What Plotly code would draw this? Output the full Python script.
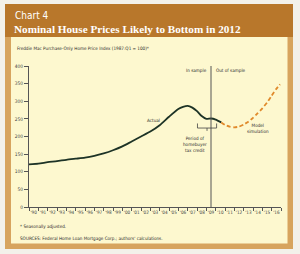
import plotly.graph_objects as go

# ---- data ----
actual_years = [1990.0, 1991.0, 1992.0, 1993.0, 1994.0, 1995.0, 1996.0, 1997.0, 1998.0,
                1999.0, 2000.0, 2001.0, 2002.0, 2003.0, 2004.0, 2005.0, 2006.0, 2006.5,
                2007.0, 2007.5, 2008.0, 2008.5, 2009.0, 2009.5, 2010.0, 2010.6]
actual_values = [121, 123, 127, 130, 134, 137, 140, 145, 152,
                 161, 172, 186, 200, 214, 232, 256, 278, 284,
                 287, 282, 272, 258, 250, 251, 248, 240]
sim_years = [2010.6, 2011.0, 2011.5, 2012.0, 2012.5, 2013.0, 2013.5, 2014.0, 2014.5,
             2015.0, 2015.5, 2016.0, 2016.5, 2016.9]
sim_values = [240, 233, 228, 226, 228, 234, 242, 253, 266,
              280, 296, 316, 335, 348]
tick_years = list(range(1990, 2017))
tick_labels = ["'" + str(y)[2:] for y in tick_years]
y_ticks = [0, 50, 100, 150, 200, 250, 300, 350, 400]
sample_split = 2009.5
credit_start, credit_end = 2008.05, 2010.1

# ---- layout geometry ----
W, H = 300, 254
L, R, T, B = 29, 19, 66, 47
PW, PH = W - L - R, H - T - B


def fx(px):
    return (px - L) / PW


def fy(py):
    return (H - B - py) / PH


FONT = "Liberation Sans Narrow, DejaVu Sans Condensed, Arial Narrow, sans-serif"
TXT = "#2a2a2a"
SM = 4.6

fig = go.Figure()
fig.add_trace(go.Scatter(x=actual_years, y=actual_values, mode="lines",
                         line=dict(color="#1d3326", width=1.8, shape="spline", smoothing=0.6),
                         hoverinfo="skip", showlegend=False))
fig.add_trace(go.Scatter(x=sim_years, y=sim_values, mode="lines",
                         line=dict(color="#e08a2c", width=1.8, dash="4px,2.5px", shape="spline",
                                   smoothing=0.6),
                         hoverinfo="skip", showlegend=False))

shapes = [
    # frame
    dict(type="rect", xref="paper", yref="paper", x0=fx(5), x1=fx(293), y0=fy(249), y1=fy(4),
         fillcolor="#d7a45e", line=dict(width=0), layer="below"),
    dict(type="rect", xref="paper", yref="paper", x0=fx(5), x1=fx(293), y0=fy(37), y1=fy(4),
         fillcolor="#b8772b", line=dict(width=0), layer="below"),
    dict(type="rect", xref="paper", yref="paper", x0=fx(11), x1=fx(287.5), y0=fy(243.5), y1=fy(37),
         fillcolor="#fdf8cf", line=dict(width=0), layer="below"),
    # sample split line
    dict(type="line", xref="x", yref="y", x0=sample_split, x1=sample_split, y0=0, y1=400,
         line=dict(color="#555555", width=1)),
    # tax credit bracket
    dict(type="path", xref="x", yref="y",
         path=f"M {credit_start},237 L {credit_start},224 L {credit_end},224 L {credit_end},237",
         line=dict(color="#444444", width=0.8)),
    dict(type="line", xref="x", yref="y", x0=(credit_start + credit_end) / 2,
         x1=(credit_start + credit_end) / 2, y0=224, y1=216,
         line=dict(color="#444444", width=0.8)),
]

ann = []


def text(s, x, y, size=SM, color=TXT, xanchor="left", family=FONT, align="left"):
    ann.append(dict(text=s, xref="paper", yref="paper", x=fx(x), y=fy(y), xanchor=xanchor,
                    yanchor="middle", showarrow=False, align=align,
                    font=dict(size=size, color=color, family=family)))


text("Chart 4", 12.5, 16, size=10, color="white")
text("<b>Nominal House Prices Likely to Bottom in 2012</b>", 12, 29.5, size=11.2, color="white",
     family="Liberation Serif, Times New Roman, serif")
text("Freddie Mac Purchase-Only Home Price Index (1987:Q1 = 100)*", 15, 48)
text("In sample", 208.5, 70, xanchor="right")
text("Out of sample", 214, 70)
text("Actual", 153, 120, xanchor="center")
text("Period of<br>homebuyer<br>tax credit", 195, 144, xanchor="center", align="center")
text("Model<br>simulation", 258, 128.5, xanchor="center", align="center")
text("* Seasonally adjusted.", 18, 226.5)
text("SOURCES: Federal Home Loan Mortgage Corp.; authors' calculations.", 18, 238.5)

fig.update_layout(
    width=W, height=H,
    margin=dict(l=L, r=R, t=T, b=B, pad=0),
    paper_bgcolor="#f3f1ea",
    plot_bgcolor="rgba(0,0,0,0)",
    shapes=shapes,
    annotations=ann,
    xaxis=dict(range=[1990, 2017], tickvals=[y + 0.5 for y in tick_years], ticktext=tick_labels,
               tickangle=0, ticks="", showgrid=False, zeroline=False, showline=True,
               linecolor="#555555", linewidth=1,
               tickfont=dict(size=4.6, color="#444444", family=FONT),
               minor=dict(tickvals=tick_years + [2017], ticks="outside", ticklen=3,
                          tickcolor="#555555", showgrid=False),
               fixedrange=True),
    yaxis=dict(range=[0, 400], tickvals=y_ticks, ticks="outside", ticklen=4, tickcolor="#555555",
               showgrid=False, zeroline=False, showline=True, linecolor="#555555", linewidth=1,
               tickfont=dict(size=4.8, color="#444444", family=FONT), fixedrange=True),
)

fig.write_html("out.html")
